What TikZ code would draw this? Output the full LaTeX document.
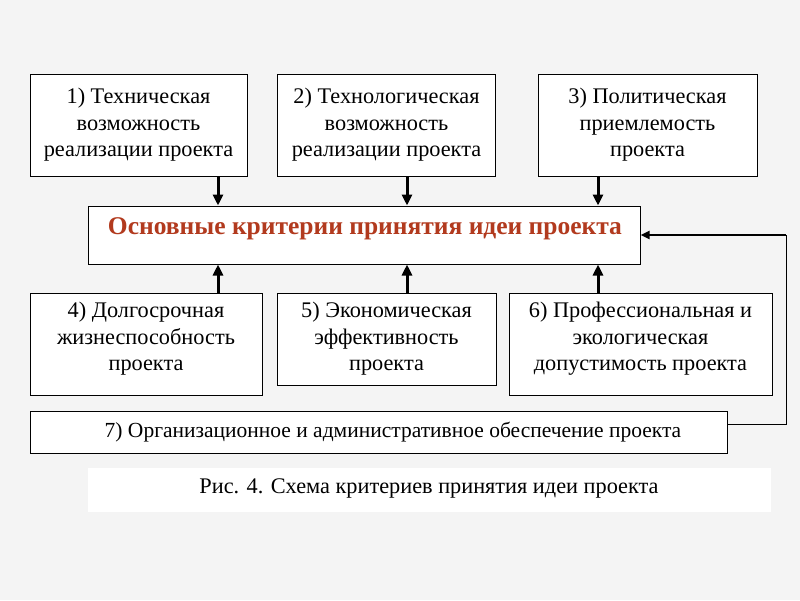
\documentclass[tikz,border=0pt]{standalone}
\usepackage{fontspec}
\setmainfont{Liberation Serif}
\usetikzlibrary{arrows.meta}
\definecolor{bg}{RGB}{244,244,244}
\definecolor{titlered}{RGB}{178,58,30}
\begin{document}
\begin{tikzpicture}[x=1pt,y=-1pt,
  critbox/.style={draw=black,fill=white,line width=1pt,rectangle,inner sep=0pt,align=center,
    font=\fontsize{22.3}{26.5}\selectfont},
  txt/.style={inner sep=0pt,align=center,font=\fontsize{22.3}{26.5}\selectfont},
  arr/.style={line width=3pt,-{Triangle[length=11pt,width=10pt]}},
  fb/.style={line width=1pt}]
\fill[bg] (0,0) rectangle (800,600);
\useasboundingbox (0,0) rectangle (800,600);
% top boxes
\node[critbox,minimum width=217pt,minimum height=102pt] (b1) at (138.5,125) {1) Техническая\\возможность\\реализации проекта};
\node[critbox,minimum width=218pt,minimum height=102pt] (b2) at (386.5,125) {2) Технологическая\\возможность\\реализации проекта};
\node[critbox,minimum width=219pt,minimum height=102pt] (b3) at (647.5,125) {3) Политическая\\приемлемость\\проекта};
% main box
\node[critbox,minimum width=552pt,minimum height=58pt] (main) at (364,235) {};
\node[txt,text=titlered,font=\bfseries\fontsize{25.5}{26}\selectfont] (maintext) at (365,229) {Основные критерии принятия идеи проекта};
% bottom boxes
\node[critbox,minimum width=232pt,minimum height=102pt] (b4) at (146,344) {};
\node[txt] (t4) at (146,339) {4) Долгосрочная\\жизнеспособность\\проекта};
\node[critbox,minimum width=219pt,minimum height=92pt] (b5) at (386.5,339) {5) Экономическая\\эффективность\\проекта};
\node[critbox,minimum width=263pt,minimum height=102pt] (b6) at (640.5,344) {};
\node[txt] (t6) at (640.5,339) {6) Профессиональная и\\экологическая\\допустимость проекта};
% box 7
\node[critbox,minimum width=697pt,minimum height=42pt] (b7) at (378.5,432) {};
\node[txt,font=\fontsize{21.5}{26}\selectfont] (t7) at (393,432) {7) Организационное и административное обеспечение проекта};
% caption
\node[fill=white,minimum width=683pt,minimum height=44pt,inner sep=0pt] (cap) at (429.5,490) {};
\node[txt,font=\fontsize{22.3}{26}\selectfont] (captext) at (429,488) {Рис. 4. Схема критериев принятия идеи проекта};
% arrows
\draw[arr] (b1.south -| 218,0) -- (main.north -| 218,0);
\draw[arr] (b2.south -| 407,0) -- (main.north -| 407,0);
\draw[arr] (b3.south -| 598,0) -- (main.north -| 598,0);
\draw[arr] (b4.north -| 218,0) -- (main.south -| 218,0);
\draw[arr] (b5.north -| 407,0) -- (main.south -| 407,0);
\draw[arr] (b6.north -| 598,0) -- (main.south -| 598,0);
% feedback
\coordinate (fbbot) at (786,424);
\coordinate (fbtop) at (786,235);
\draw[fb] (b7.east |- fbbot) -- (fbbot) -- (fbtop);
\draw[line width=2.5pt,-{Triangle[length=9pt,width=8pt]}] (fbtop) -- (main.east);
\end{tikzpicture}
\end{document}
